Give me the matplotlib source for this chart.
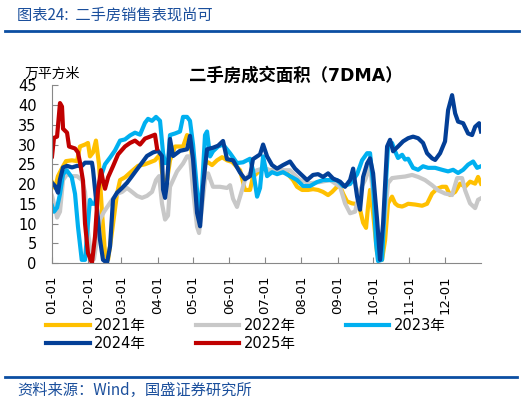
import numpy as np
import matplotlib
matplotlib.use("Agg")
import matplotlib.pyplot as plt

plt.rcParams['font.family'] = ['DejaVu Sans', 'Noto Sans CJK SC']

# day of year (0 = Jan 1) and 7DMA values
d2021 = [0, 2.6, 5.1, 8.5, 11.9, 17, 21.3, 23.8, 28.1, 30.6, 32.3, 34.9, 37.4, 40, 42.6, 45.1, 47.7,
         51.1, 55.3, 57.9, 62.1, 68.1, 73.2, 79.1, 83.4, 87.6, 91.9, 94.5, 97.9, 100.4, 104.7, 111.5,
         114.9, 117.4, 120, 123.4, 125.1, 127.7, 130.2, 132.8, 136.2, 140.4, 144.7, 148.9, 153.2,
         157.4, 160, 164.2, 168.5, 171, 175.3, 179.6, 185.5, 189.8, 200, 205.1, 208.5, 212.8, 217.9,
         222.1, 226.4, 230.6, 234.9, 238.3, 242.5, 245.1, 247.6, 251, 255.3, 257.9, 262.1, 264.7,
         267.2, 268.9, 270.6, 273.2, 276.6, 279.1, 280.8, 283.4, 285.9, 289.3, 291.9, 294.4, 297.9,
         300.4, 303, 309, 314.9, 319.1, 323.4, 327.6, 331.9, 335.3, 338.7, 343, 347.2, 351.5, 355.7,
         360, 362.5, 365]
v2021 = [20.5, 19, 22, 24, 25.8, 26, 25.8, 29.5, 30, 30.4, 27, 28, 31, 25, 12.5, 2.5, 0.8,
         8, 17.5, 21, 21.7, 23.3, 24.6, 25, 25.5, 26, 27.5, 21, 21, 26, 29.5, 29.5,
         32.4, 32, 24, 14, 10, 17, 25.2, 25.5, 24.8, 26, 26.8, 26, 25.6,
         24.3, 23.5, 18.5, 18.5, 21.8, 23, 23.9, 23.5, 23.5, 22.7, 21, 19.3, 18.5, 18.5,
         18.7, 18.5, 18, 17.2, 18, 19.3, 19.5, 17.6, 15.6, 15.1, 15, 13.5, 10.2,
         8.9, 14.3, 18.5, 12.6, 2.5, 0.8, 0.8, 5.8, 15.1, 16.8, 15.1, 14.5, 14.3,
         14.6, 15, 14.8, 14.5, 15, 17.6, 18.8, 19.3, 19.3, 17.2, 18, 20.1, 19.3, 20.6,
         20.1, 21.8, 20.1]

d2022 = [0, 2.6, 4.3, 6.8, 9.4, 12.8, 17, 21.3, 25.5, 28.1, 30.6, 33.2, 35.7, 38.3, 40.8, 44.3,
         47.7, 51.1, 55.3, 59.6, 63.8, 68.1, 72.3, 76.6, 80.8, 85.1, 88.5, 91.1, 93.6, 96.2, 98.7,
         100.4, 106.4, 111.5, 114.9, 117.4, 120, 123.4, 125.1, 127.7, 130.2, 132.8, 137, 143, 148.9,
         151.5, 154, 157.4, 160, 164.2, 168.5, 174.5, 180.4, 185.5, 194, 202.5, 211, 219.6, 228.1,
         236.6, 245.1, 249.3, 253.6, 257.9, 262.1, 266.4, 270.6, 274.9, 277.4, 280, 283.4, 285.9,
         289.3, 294.4, 300.4, 306.4, 311.5, 317.4, 323.4, 328.5, 334.4, 340.4, 344.7, 348.9, 351.5,
         355.7, 360, 362.5, 365]
v2022 = [17, 14, 11.5, 13, 21, 22.5, 22, 22, 21, 18, 8, 2, 1, 6, 11, 13,
         14.5, 16, 17.5, 18, 19, 18, 17, 16.5, 17, 18, 21, 22, 15, 11, 12,
         19.3, 23.2, 25.2, 27, 27, 18.4, 9.2, 7.6, 14.3, 21, 22.7, 19.3, 19.3, 19,
         19.7, 16.3, 14.2, 16.8, 21, 22.7, 23.5, 24, 23.5, 23.5, 23.5, 21, 20.2, 20.5,
         21, 19.3, 15.1, 12.6, 13, 18.6, 21, 24.5, 12.6, 0.8, 1.5, 12.6, 20.2,
         21.5, 21.7, 21.9, 22.3, 21.8, 21, 19.7, 18.4, 17.6, 17.2, 21.5, 21.5, 18.4,
         15.1, 13.9, 16, 16.4]

d2023 = [0, 1.7, 4.3, 6.8, 9.4, 12.5, 16.8, 19.6, 22.1, 25.3, 28.1, 30.6, 32.3, 34, 36.6, 39.1,
         41.7, 45.1, 49.4, 53.6, 57.9, 62.1, 66.4, 70.6, 74.9, 79.1, 81.7, 85.1, 88.5, 91.9, 94.5,
         96.2, 98.7, 100.4, 104.7, 108.9, 111.5, 114.9, 117.4, 120, 123.4, 125.1, 127.7, 130.2,
         131.9, 134.5, 137, 141.3, 145.5, 151.5, 157.4, 162.5, 168.5, 171, 174.5, 177, 179.6, 183,
         187.2, 191.5, 196.6, 202.5, 208.5, 213.6, 219.6, 225.5, 230.6, 236.6, 242.5, 247.6, 253.6,
         259.6, 263.8, 268.1, 270.6, 273.2, 275.7, 277.4, 280.8, 283.4, 285.9, 289.3, 291.9, 294.4,
         297.9, 300.4, 303, 307.2, 311.5, 315.7, 320, 326, 331.9, 337, 341.3, 345.5, 349.8, 354,
         358.3, 361.7, 365]
v2023 = [14.5, 13, 14, 17.5, 22.5, 23.5, 21.7, 17.5, 9.2, 0.8, 0.8, 10, 16, 15, 15, 19,
         22, 25, 26.7, 28.5, 31, 31.3, 32.3, 33, 32.5, 35.5, 36.5, 36, 37, 36, 27.8,
         25.3, 25.5, 32.4, 32.8, 33.3, 37, 37, 36, 30, 18.4, 10.9, 19.3, 32.4,
         33.3, 27, 28.3, 29.5, 30, 27.8, 25.3, 25.5, 26.4, 23.5, 16.8, 19, 27, 22,
         23, 22.5, 23, 22, 21, 19.5, 19.5, 20.5, 21, 21, 21, 19.5, 20,
         22.5, 26, 27.8, 27.8, 20, 5, 0.5, 0.8, 16.8, 29.5, 30.4, 28.3, 26.6,
         27.4, 26.2, 26.4, 24.1, 23.6, 24.5, 24.1, 24.1, 23.6, 23.2, 23.6, 22.8, 23.6, 24.9,
         25.7, 24.1, 24.5]

d2024 = [0, 2.6, 5.1, 6.8, 9.4, 12.8, 17, 21.3, 25.5, 28.1, 30.6, 34, 34.9, 38.3, 40.8, 43.4,
         46.8, 49.4, 51.9, 55.3, 59.6, 63.8, 68.1, 72.3, 76.6, 80.8, 86, 90.2, 93.6, 94.5, 96.2,
         97.9, 100.4, 103, 108.9, 114.9, 117.4, 120, 123.4, 126, 128.5, 131.9, 137, 141.3, 145.5,
         148.9, 154, 160, 164.2, 168.5, 171, 177, 179.6, 183, 187.2, 191.5, 196.6, 202.5, 206.8,
         211, 217, 222.1, 226.4, 230.6, 234.9, 239.1, 245.1, 249.3, 253.6, 256.2, 259.6, 262.1,
         264.7, 268.1, 270.6, 273.2, 276.6, 279.1, 281.7, 285.1, 287.6, 290.2, 294.4, 298.7, 303,
         307.2, 311.5, 315.7, 319.1, 323.4, 326, 330.2, 334.4, 337, 340.4, 343, 345.5, 349.8, 354,
         357.4, 360, 363.4, 365]
v2024 = [20.3, 19.5, 17.8, 21.2, 24.2, 24.6, 24.2, 24.6, 24.6, 25.4, 25.4, 25.4, 23.7, 13.6, 6, 0.8,
         0, 4.2, 16.1, 17.8, 19, 20.3, 22, 23.7, 25.4, 27.1, 28, 28.4, 27.1, 18.6, 16.5,
         20.3, 31.4, 27.1, 28.4, 28.8, 32.2, 26.3, 12.7, 9.3, 19.5, 28.8, 29.2, 29.7, 30.9,
         26.3, 26, 22.9, 21.2, 22, 26.3, 27.5, 30, 27, 24.8, 23.9, 24.8, 25.7, 23.9,
         22.7, 21, 22.3, 22.5, 21.8, 22.7, 21.4, 20.6, 19.3, 21, 23.9, 16.8, 13.5,
         21.8, 25.2, 26.5, 22.7, 10.9, 0.8, 10, 29.5, 31.2, 28.3, 29.5, 30.8, 31.6,
         32, 31.6, 30.4, 27.8, 26.5, 26.1, 27.8, 30.8, 38.7, 42.5, 37.9, 35.8, 35.4, 32.8,
         32.4, 34.5, 35.4, 33.3]

d2025 = [0, 1.7, 4.3, 6.8, 8.5, 9.4, 12.8, 14.5, 19.6, 22.1, 23.8, 26.4, 28.1, 30.6, 34, 36.6,
         39.1, 41.7, 43.4, 45.1, 47.7, 51.9, 56.2, 62.1, 66.4, 70.6, 74.9, 79.1, 83.4, 87.6, 89.4]
v2025 = [27, 31.7, 32, 40.5, 39.6, 34, 33, 29.5, 29, 28, 25.5, 20.8, 10, 2.5, 0, 6.7,
         18.3, 23.5, 20.8, 18.8, 21.7, 24.5, 27.5, 29.5, 30.4, 31, 30, 31.5, 32, 32.5, 29]

month_days = [0, 31, 59, 90, 120, 151, 181, 212, 243, 273, 304, 334]
month_labels = ['01-01', '02-01', '03-01', '04-01', '05-01', '06-01',
                '07-01', '08-01', '09-01', '10-01', '11-01', '12-01']

series = [
    ('2021年', d2021, v2021, '#FFC000'),
    ('2022年', d2022, v2022, '#C8C8C8'),
    ('2023年', d2023, v2023, '#00B0F0'),
    ('2024年', d2024, v2024, '#033F97'),
    ('2025年', d2025, v2025, '#C00000'),
]

fig = plt.figure(figsize=(5.32, 4.03), dpi=100)
ax = fig.add_axes([52 / 532, 1 - 263 / 403, 429 / 532, (263 - 85.3) / 403])

handles = {}
for name, d, v, c in series:
    ln, = ax.plot(d, v, color=c, lw=3, solid_joinstyle='round', label=name)
    handles[name] = ln

ax.set_xlim(0, 365)
ax.set_ylim(0, 45)
ax.set_yticks(range(0, 46, 5))
ax.set_xticks(month_days)
ax.set_xticklabels(month_labels, rotation=90)
for s in ['top', 'right']:
    ax.spines[s].set_visible(False)
for s in ['left', 'bottom']:
    ax.spines[s].set_color('#888888')
    ax.spines[s].set_linewidth(0.8)
ax.tick_params(axis='both', direction='in', length=4, color='#888888', labelsize=10.5)
ax.tick_params(axis='y', pad=11)
ax.tick_params(axis='x', pad=9, labelsize=9.5)

fig.text(25 / 532, 1 - 74 / 403, '万平方米', fontsize=10, va='center', ha='left')
fig.text(296 / 532, 1 - 76 / 403, '二手房成交面积（7DMA）', fontsize=12.5, fontweight='bold',
         va='center', ha='center')

# row-major legend: reorder because matplotlib fills columns first
order = ['2021年', '2024年', '2022年', '2025年', '2023年']
fig.legend([handles[k] for k in order], order, loc='upper left',
           bbox_to_anchor=(46 / 532, 1 - 318 / 403), ncol=3, frameon=False,
           fontsize=10.5, handlelength=3.0, handletextpad=0.3, columnspacing=3.4,
           labelspacing=0.2, borderpad=0, borderaxespad=0)

blue = '#1B4F9C'
fig.text(17 / 532, 1 - 15 / 403, '图表24:  二手房销售表现尚可', fontsize=11, color=blue,
         va='center', ha='left', family=['Noto Sans CJK SC', 'DejaVu Sans'])
fig.add_artist(plt.Line2D([5 / 532, 519 / 532], [1 - 31 / 403, 1 - 31 / 403],
                          color='#0B4EA2', lw=2))
fig.add_artist(plt.Line2D([5 / 532, 517 / 532], [1 - 377 / 403, 1 - 377 / 403],
                          color='#0B4EA2', lw=2))
fig.text(17 / 532, 1 - 390 / 403, '资料来源：Wind，国盛证券研究所', fontsize=11, color=blue,
         va='center', ha='left', family=['Noto Sans CJK SC', 'DejaVu Sans'])

fig.savefig('out.png', dpi=100)
